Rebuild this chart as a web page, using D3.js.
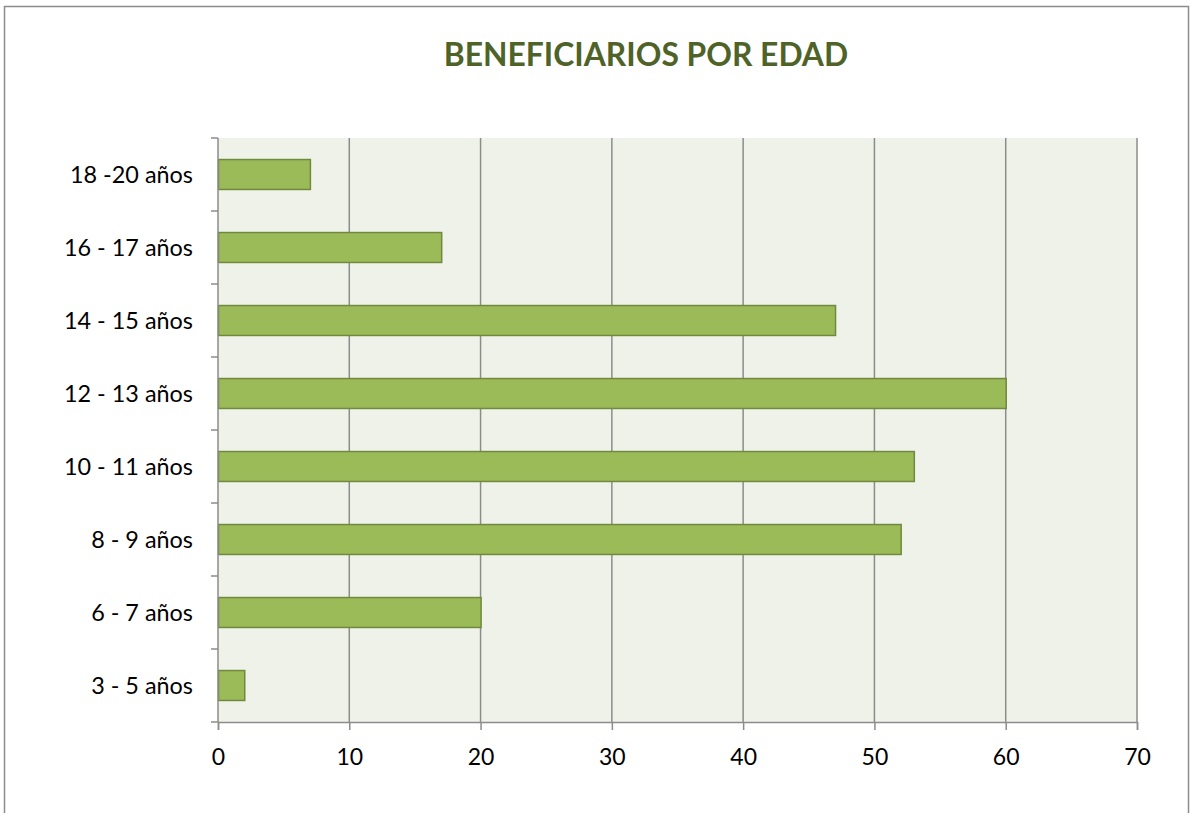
<!DOCTYPE html>
<html>
<head>
<meta charset="utf-8">
<script src="https://cdn.jsdelivr.net/npm/d3@7"></script>
<style>
body { margin: 0; background: #fff; }
text { font-family: Lato, "Open Sans", sans-serif; }
</style>
</head>
<body>
<div id="chart"></div>
<script>
'use strict';

// data, top to bottom as in the chart
var categories = ['18 -20 años', '16 - 17 años', '14 - 15 años', '12 - 13 años',
	'10 - 11 años', '8 - 9 años', '6 - 7 años', '3 - 5 años'];
var values = [7, 17, 47, 60, 53, 52, 20, 2];
var xTicks = [0, 10, 20, 30, 40, 50, 60, 70];
var title = 'BENEFICIARIOS POR EDAD';

var W = 1190, H = 813;
var margin = { top: 138, right: 53, bottom: 91, left: 218 };
var width = W - margin.left - margin.right;
var height = H - margin.top - margin.bottom;

var svg = d3.select('#chart').append('svg')
	.attr('width', W)
	.attr('height', H);

// outer frame
svg.append('rect')
	.attr('x', 4.5).attr('y', 6.5)
	.attr('width', 1184).attr('height', 820)
	.attr('fill', '#fff')
	.attr('stroke', '#8c8c8c')
	.attr('stroke-width', 1.5);

svg.append('text')
	.attr('x', 646)
	.attr('y', 66)
	.attr('text-anchor', 'middle')
	.attr('font-size', '31.8px')
	.attr('font-weight', 'bold')
	.attr('fill', '#4f6228')
	.text(title);

var g = svg.append('g')
	.attr('transform', 'translate(' + margin.left + ',' + margin.top + ')');

var x = d3.scaleLinear().domain([0, 70]).range([0, width]);
var y = d3.scaleBand().domain(categories).range([0, height])
	.paddingInner(0.59).paddingOuter(0.295);

g.append('rect')
	.attr('width', width).attr('height', height)
	.attr('fill', '#eff2e9');

// vertical gridlines
g.selectAll('.grid').data(xTicks.slice(1))
	.enter().append('line')
	.attr('x1', function(d){ return x(d); })
	.attr('x2', function(d){ return x(d); })
	.attr('y1', 0).attr('y2', height)
	.attr('stroke', '#8c8c8c')
	.attr('stroke-width', 1.5);

// bars
g.selectAll('.bar').data(values)
	.enter().append('rect')
	.attr('class', 'bar')
	.attr('x', x(0) + 0.5)
	.attr('y', function(d, i){ return y(categories[i]); })
	.attr('width', function(d){ return x(d) - x(0); })
	.attr('height', y.bandwidth())
	.attr('fill', '#9bbb59')
	.attr('stroke', '#71893f')
	.attr('stroke-width', 1.5);

// x axis
var xAxis = d3.axisBottom(x).tickValues(xTicks).tickSize(8).tickPadding(19);
var xg = g.append('g').attr('transform', 'translate(0,' + height + ')').call(xAxis);
xg.select('.domain').attr('stroke', '#8c8c8c').attr('stroke-width', 1.5);
xg.selectAll('line').attr('stroke', '#8c8c8c').attr('stroke-width', 1.5);
xg.selectAll('text').attr('font-size', '23px').attr('fill', '#000')
	.style('font-family', 'Lato, sans-serif');

// y axis: ticks at category boundaries
var step = height / categories.length;
var yg = g.append('g');
yg.append('line')
	.attr('x1', 0).attr('x2', 0).attr('y1', 0).attr('y2', height)
	.attr('stroke', '#8c8c8c').attr('stroke-width', 1.5);
yg.selectAll('.ytick').data(d3.range(categories.length + 1))
	.enter().append('line')
	.attr('x1', -7).attr('x2', 0)
	.attr('y1', function(d){ return d * step; })
	.attr('y2', function(d){ return d * step; })
	.attr('stroke', '#8c8c8c').attr('stroke-width', 1.5);
yg.selectAll('.ylabel').data(categories)
	.enter().append('text')
	.attr('x', -25)
	.attr('y', function(d){ return y(d) + y.bandwidth() / 2; })
	.attr('dy', '0.35em')
	.attr('text-anchor', 'end')
	.attr('font-size', '23.4px')
	.attr('fill', '#000')
	.text(function(d){ return d; });
</script>
</body>
</html>
